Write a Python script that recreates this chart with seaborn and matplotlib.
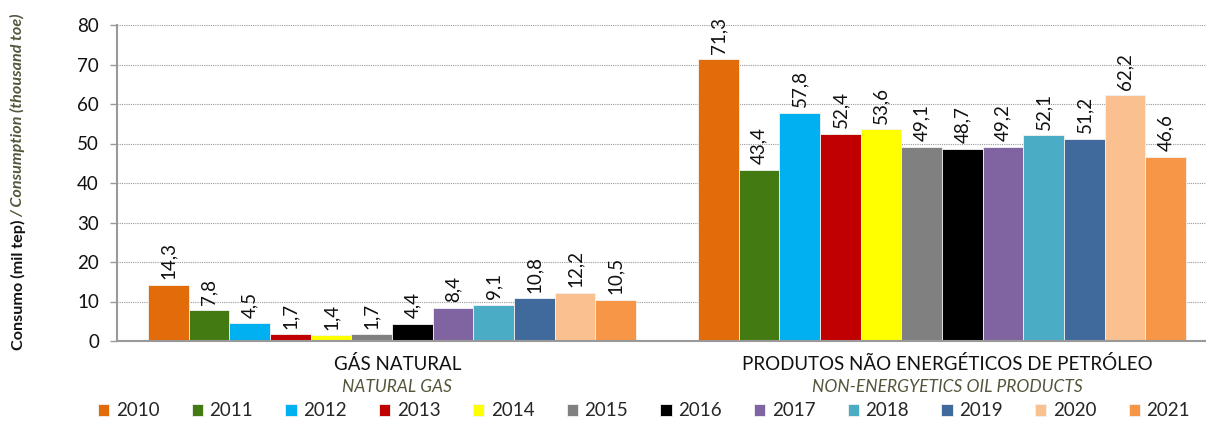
import matplotlib
matplotlib.use("Agg")
import matplotlib.pyplot as plt
import seaborn as sns
import pandas as pd

categories = ["GÁS NATURAL", "PRODUTOS NÃO ENERGÉTICOS DE PETRÓLEO"]
subtitles = ["NATURAL GAS", "NON-ENERGYETICS OIL PRODUCTS"]
years = ["2010", "2011", "2012", "2013", "2014", "2015",
         "2016", "2017", "2018", "2019", "2020", "2021"]
gas_natural = [14.3, 7.8, 4.5, 1.7, 1.4, 1.7, 4.4, 8.4, 9.1, 10.8, 12.2, 10.5]
nao_energeticos = [71.3, 43.4, 57.8, 52.4, 53.6, 49.1, 48.7, 49.2, 52.1, 51.2, 62.2, 46.6]
colors = ["#E36C0A", "#447A12", "#00B0F0", "#C00000", "#FFFF00", "#808080",
          "#000000", "#8064A2", "#4BACC6", "#3F6A9B", "#FAC090", "#F79646"]
yticks = [0, 10, 20, 30, 40, 50, 60, 70, 80]

rows = []
for cat, vals in zip(categories, [gas_natural, nao_energeticos]):
    for y, v in zip(years, vals):
        rows.append({"cat": cat, "year": y, "val": v})
df = pd.DataFrame(rows)

sns.set_style("white")
plt.rcParams["font.family"] = ["Lato", "DejaVu Sans"]

fig = plt.figure(figsize=(12.06, 4.22), dpi=100)
ax = fig.add_axes([117 / 1206, 1 - 341 / 422, 1 - 117 / 1206, (341 - 25) / 422])

sns.barplot(data=df, x="cat", y="val", hue="year", hue_order=years,
            order=categories, palette=colors, width=0.887, ax=ax,
            edgecolor="#f2f2f2", linewidth=0.6, saturation=1, errorbar=None)

for cont in ax.containers:
    ax.bar_label(cont, labels=[f"{b.get_height():.1f}".replace(".", ",") for b in cont],
                 rotation=90, padding=4, fontsize=13.5, color="#111111")

ax.set_xlim(-0.5, 1.48)
ax.set_ylim(0, 80)
ax.set_yticks(yticks)
ax.set_yticklabels([str(t) for t in yticks], fontsize=13.5, color="#111111")
ax.tick_params(axis="y", which="both", left=True, length=5, width=1, color="#999999", pad=8)
ax.tick_params(axis="x", bottom=False, labelbottom=False)
ax.set_xlabel("")
ax.set_ylabel("")
ax.yaxis.grid(True, linestyle=(0, (1, 1)), color="#9a9a9a", linewidth=0.8)
ax.set_axisbelow(True)
for s in ["top", "right"]:
    ax.spines[s].set_visible(False)
ax.spines["left"].set_color("#999999")
ax.spines["left"].set_linewidth(1.5)
ax.spines["bottom"].set_color("#999999")
ax.spines["bottom"].set_linewidth(1.5)

# category labels
for i, (cat, sub) in enumerate(zip(categories, subtitles)):
    ax.text(i + 0.01, -0.072, cat, transform=ax.get_xaxis_transform(),
            ha="center", va="center", fontsize=13.5, color="#111111")
    ax.text(i + 0.01, -0.146, sub, transform=ax.get_xaxis_transform(),
            ha="center", va="center", fontsize=12.5, color="#55553C", style="italic")

# legend
handles, labels = ax.get_legend_handles_labels()
if ax.get_legend() is not None:
    ax.get_legend().remove()
fig.legend(handles, labels, loc="center", bbox_to_anchor=(0.534, 1 - 411 / 422),
           ncol=12, frameon=False, fontsize=13.5, handlelength=0.6, handleheight=0.6,
           handletextpad=0.35, columnspacing=1.72, borderaxespad=0)

# y label with mixed styles
t1 = fig.text(18 / 1206, 1 - 350 / 422, "Consumo (mil tep)", rotation=90,
              ha="center", va="bottom", fontsize=11.6, fontweight="bold", color="#111111")
fig.canvas.draw()
bb = t1.get_window_extent(renderer=fig.canvas.get_renderer())
y1 = bb.y1 / fig.bbox.height
fig.text(18 / 1206, y1 + 0.006, "/ Consumption (thousand toe)", rotation=90,
         ha="center", va="bottom", fontsize=11.6, fontweight="bold", style="italic",
         color="#55553C")

fig.savefig("out.png", dpi=100)
